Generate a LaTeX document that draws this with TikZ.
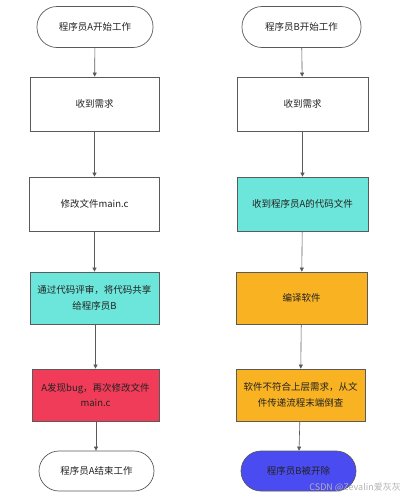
\documentclass[tikz,border=0pt]{standalone}
\usepackage{fontspec}
\setmainfont{Noto Sans CJK SC}
\usetikzlibrary{arrows.meta}
\definecolor{bordergray}{HTML}{5A5A5A}
\definecolor{tealfill}{HTML}{6CE6DA}
\definecolor{redfill}{HTML}{F03C58}
\definecolor{orangefill}{HTML}{F8B222}
\definecolor{bluefill}{HTML}{4A4CF2}
\definecolor{txt}{HTML}{222222}
\tikzset{
  stepbox/.style={draw=bordergray, line width=0.7pt, fill=white, minimum height=54pt, inner sep=2pt, align=center, font=\fontsize{9.5}{15.5}\selectfont, text=txt},
  pill/.style={stepbox, rounded corners=20pt, minimum height=41pt, minimum width=116pt},
  flow/.style={draw=bordergray, line width=0.6pt, -{Triangle[length=4pt,width=4pt]}},
}
\begin{document}
\begin{tikzpicture}[x=1pt,y=-1pt]
\useasboundingbox (0,0) rectangle (405,501);
% left column
\node[pill] (a1) at (95,27) {程序员A开始工作};
\node[stepbox, minimum width=129pt] (a2) at (94.5,104) {收到需求};
\node[stepbox, minimum width=130pt] (a3) at (94.5,204) {修改文件main.c};
\node[stepbox, minimum width=129pt, minimum height=52pt, fill=tealfill] (a4) at (94.5,298) {通过代码评审，将代码共享\\给程序员B};
\node[stepbox, minimum width=127pt, minimum height=52pt, fill=redfill] (a5) at (95.5,395) {A发现bug，再次修改文件\\main.c};
\node[pill, minimum width=115pt, minimum height=40pt] (a6) at (96.5,471) {程序员A结束工作};
% right column
\node[pill, minimum width=119pt] (b1) at (301.5,27) {程序员B开始工作};
\node[stepbox, minimum width=131pt] (b2) at (302.5,104) {收到需求};
\node[stepbox, minimum width=131pt, fill=tealfill] (b3) at (302.5,204) {收到程序员A的代码文件};
\node[stepbox, minimum width=131pt, minimum height=52pt, fill=orangefill] (b4) at (301.5,298) {编译软件};
\node[stepbox, minimum width=129pt, minimum height=52pt, fill=orangefill] (b5) at (300.5,395) {软件不符合上层需求，从文\\件传递流程末端倒查};
\node[pill, minimum width=115pt, minimum height=40pt, fill=bluefill] (b6) at (298.5,471) {程序员B被开除};
% connectors
\draw[flow] (a1) -- (a2);
\draw[flow] (a2) -- (a3);
\draw[flow] (a3) -- (a4);
\draw[flow] (a4.south -| a5.north) -- (a5);
\draw[flow] (a5.south) ++(0.5,0) coordinate (a5s) -- (a5s |- a6.north);
\draw[flow] (b1) -- (b2);
\draw[flow] (b2) -- (b3);
\draw[flow] (b3) -- (b4);
\draw[flow] (b4) -- (b5);
\draw[flow] (b5) -- (b6);
% watermark
\node[text=black!30, font=\fontsize{9}{10}\selectfont, anchor=east, inner sep=0pt] (wm) at (401,487) {CSDN @Zevalin爱灰灰};
\end{tikzpicture}
\end{document}
